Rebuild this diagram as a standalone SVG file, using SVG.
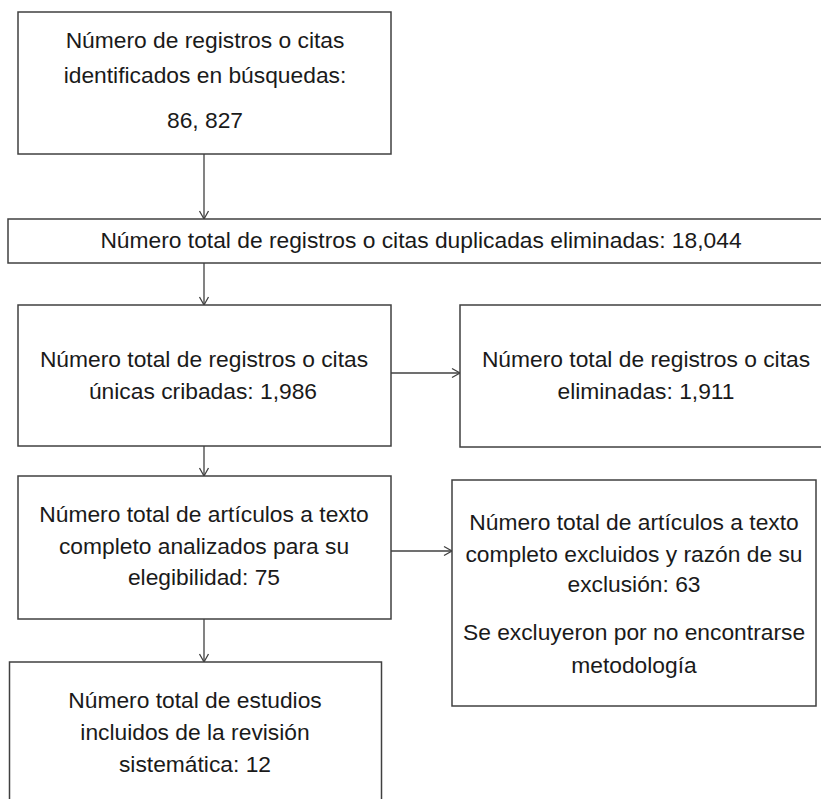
<svg xmlns="http://www.w3.org/2000/svg" width="821" height="799" viewBox="0 0 821 799">
<style>
.box{fill:#fff;stroke:#404040;stroke-width:1.5}
.t{font-family:"Liberation Sans",Arial,sans-serif;font-size:22.8px;fill:#1a1a1a;text-anchor:middle}
.c{stroke:#404040;stroke-width:1.3;fill:none}
</style>
<defs>
<marker id="ah" markerUnits="userSpaceOnUse" markerWidth="12" markerHeight="12" refX="9" refY="5" orient="auto" viewBox="0 0 12 10">
<path d="M1,0.5 L9,5 L1,9.5" fill="none" stroke="#404040" stroke-width="1.3"/>
</marker>
</defs>
<rect width="821" height="799" fill="#fff"/>
<g id="connectors">
<line class="c" x1="204" y1="154" x2="204" y2="219" marker-end="url(#ah)"/>
<line class="c" x1="204" y1="263" x2="204" y2="305" marker-end="url(#ah)"/>
<line class="c" x1="204" y1="446" x2="204" y2="476" marker-end="url(#ah)"/>
<line class="c" x1="204" y1="619" x2="204" y2="662" marker-end="url(#ah)"/>
<line class="c" x1="391" y1="373" x2="460" y2="373" marker-end="url(#ah)"/>
<line class="c" x1="391" y1="551" x2="452" y2="551" marker-end="url(#ah)"/>
</g>
<g id="n1">
<rect class="box" x="18" y="12" width="373" height="142"/>
<text class="t" x="205" y="48">Número de registros o citas</text>
<text class="t" x="205" y="83">identificados en búsquedas:</text>
<text class="t" x="205" y="128">86, 827</text>
</g>
<g id="n2">
<rect class="box" x="8" y="219" width="830" height="44"/>
<text class="t" x="421" y="248">Número total de registros o citas duplicadas eliminadas: 18,044</text>
</g>
<g id="n3">
<rect class="box" x="18" y="305" width="373" height="141"/>
<text class="t" x="204" y="367">Número total de registros o citas</text>
<text class="t" x="203" y="399">únicas cribadas: 1,986</text>
</g>
<g id="n4">
<rect class="box" x="460" y="305" width="380" height="142"/>
<text class="t" x="646" y="367">Número total de registros o citas</text>
<text class="t" x="646" y="399">eliminadas: 1,911</text>
</g>
<g id="n5">
<rect class="box" x="18" y="476" width="373" height="143"/>
<text class="t" x="204" y="522">Número total de artículos a texto</text>
<text class="t" x="204" y="554">completo analizados para su</text>
<text class="t" x="204" y="585">elegibilidad: 75</text>
</g>
<g id="n6">
<rect class="box" x="452" y="480" width="364" height="226"/>
<text class="t" x="634" y="530">Número total de artículos a texto</text>
<text class="t" x="634" y="562">completo excluidos y razón de su</text>
<text class="t" x="634" y="592">exclusión: 63</text>
<text class="t" x="634" y="640">Se excluyeron por no encontrarse</text>
<text class="t" x="634" y="673">metodología</text>
</g>
<g id="n7">
<rect class="box" x="9.5" y="662" width="372" height="150"/>
<text class="t" x="195" y="708">Número total de estudios</text>
<text class="t" x="195" y="740">incluidos de la revisión</text>
<text class="t" x="195" y="772">sistemática: 12</text>
</g>
</svg>
